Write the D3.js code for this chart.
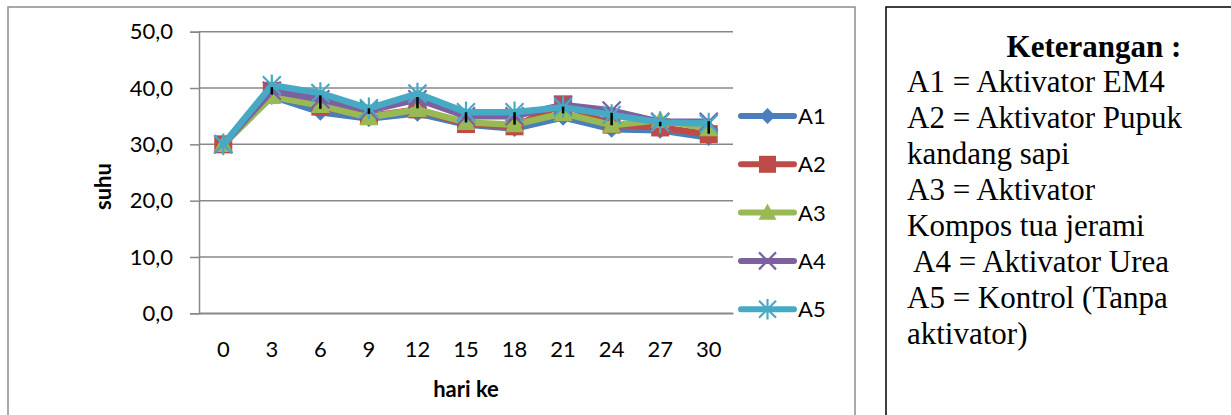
<!DOCTYPE html>
<html><head><meta charset="utf-8">
<script src="https://cdn.jsdelivr.net/npm/d3@7"></script>
<style>
html,body{margin:0;padding:0;background:#fff;}
svg{display:block;}
</style></head>
<body>
<svg id="c" width="1231" height="415"></svg>
<script>
const days = [0, 3, 6, 9, 12, 15, 18, 21, 24, 27, 30];
const seriesNames = ["A1", "A2", "A3", "A4", "A5"];
const A1 = [30, 38.5, 35.7, 34.6, 35.5, 33.5, 32.8, 34.8, 32.7, 32.5, 31.2];
const A2 = [30, 39.5, 36.7, 35.0, 36.2, 33.6, 33.2, 37.1, 33.5, 33.0, 31.8];
const A3 = [30, 38.5, 36.9, 34.8, 36.2, 33.9, 33.5, 35.5, 33.4, 34.3, 32.8];
const A4 = [30, 39.5, 38.0, 36.0, 38.0, 35.0, 35.0, 37.0, 36.0, 34.0, 34.0];
const A5 = [30, 40.5, 39.1, 36.4, 39.0, 35.7, 35.7, 36.6, 35.2, 33.9, 33.7];
const errCenter = [30, 39.5, 37.5, 35.9, 37.4, 34.8, 34.6, 36.1, 34.5, 33.6, 33.0];
const errHalf = [0, 0.65, 1.2, 0.5, 1.0, 0.9, 1.1, 0.6, 1.1, 0.4, 1.1];
const yTicks = [0, 10, 20, 30, 40, 50];
const noteTitle = "Keterangan :";
const noteLines = ["A1 = Aktivator EM4", "A2 = Aktivator Pupuk", "kandang sapi", "A3 = Aktivator",
  "Kompos tua jerami", " A4 = Aktivator Urea", "A5 = Kontrol (Tanpa", "aktivator)"];

const values = [A1, A2, A3, A4, A5];
const colors = ["#4A7EBB", "#BE4B48", "#98B954", "#7D60A0", "#46AAC5"];
const svg = d3.select("#c");
const sans = "Lato, 'Open Sans', sans-serif";

// outer chart border
svg.append("rect").attr("x", 8).attr("y", 7).attr("width", 847).attr("height", 420)
  .attr("fill", "none").attr("stroke", "#8c8c8c").attr("stroke-width", 1.5);

const L = 199, R = 733, T = 31.7, B = 313.3;
const x = d3.scaleBand().domain(days).range([L, R]);
const y = d3.scaleLinear().domain([0, 50]).range([B, T]);

// gridlines
svg.append("g").selectAll("line").data(yTicks).join("line")
  .attr("x1", L).attr("x2", R).attr("y1", d => y(d)).attr("y2", d => y(d))
  .attr("stroke", "#888").attr("stroke-width", 1.5);

// y axis
const yAxis = svg.append("g").attr("transform", `translate(${L},0)`)
  .call(d3.axisLeft(y).tickValues(yTicks).tickSize(9).tickPadding(17)
    .tickFormat(d => d3.format(".1f")(d).replace(".", ",")));
yAxis.select(".domain").attr("stroke", "#888").attr("stroke-width", 1.5);
yAxis.selectAll(".tick line").attr("stroke", "#888").attr("stroke-width", 1.5);
yAxis.selectAll("text").attr("font-family", sans).attr("font-size", 22).attr("fill", "#000");

// x axis
const xAxis = svg.append("g").attr("transform", `translate(0,${B})`)
  .call(d3.axisBottom(x).tickSize(0).tickPadding(28));
xAxis.select(".domain").attr("stroke", "#888").attr("stroke-width", 1.5);
xAxis.selectAll("text").attr("font-family", sans).attr("font-size", 22).attr("fill", "#000");

// axis titles
svg.append("text").attr("x", (L + R) / 2).attr("y", 397).attr("text-anchor", "middle")
  .attr("font-family", sans).attr("font-weight", "bold").attr("font-size", 22).text("hari ke");
svg.append("text").attr("transform", `translate(111,${(T + B) / 2 + 14}) rotate(-90)`)
  .attr("text-anchor", "middle").attr("font-family", sans).attr("font-weight", "bold")
  .attr("font-size", 22).text("suhu");

const cx = d => x(d) + x.bandwidth() / 2;
const line = d3.line().x(d => cx(d[0])).y(d => y(d[1]));

function marker(g, i, px, py, s) {
  const c = colors[i];
  if (i === 0) {
    g.append("path").attr("d", `M${px},${py - s}L${px + s},${py}L${px},${py + s}L${px - s},${py}Z`).attr("fill", c);
  } else if (i === 1) {
    g.append("rect").attr("x", px - s).attr("y", py - s).attr("width", s * 2).attr("height", s * 2).attr("fill", c);
  } else if (i === 2) {
    g.append("path").attr("d", `M${px},${py - s}L${px + s},${py + s * 0.8}L${px - s},${py + s * 0.8}Z`).attr("fill", c);
  } else if (i === 3) {
    g.append("path").attr("d", `M${px - s},${py - s}L${px + s},${py + s}M${px - s},${py + s}L${px + s},${py - s}`)
      .attr("stroke", c).attr("stroke-width", 2.2).attr("fill", "none");
  } else {
    g.append("path").attr("d", `M${px - s},${py - s}L${px + s},${py + s}M${px - s},${py + s}L${px + s},${py - s}M${px},${py - s * 1.2}L${px},${py + s * 1.2}`)
      .attr("stroke", c).attr("stroke-width", 2.2).attr("fill", "none");
  }
}

values.forEach((vals, i) => {
  const pts = days.map((d, j) => [d, vals[j]]);
  const g = svg.append("g");
  g.append("path").attr("d", line(pts)).attr("fill", "none").attr("stroke", colors[i])
    .attr("stroke-width", 6.5).attr("stroke-linejoin", "round").attr("stroke-linecap", "round");
  pts.forEach(p => marker(g, i, cx(p[0]), y(p[1]), [8.5, 9, 9.5, 9, 9][i]));
});

// error bars
svg.append("g").selectAll("line").data(days.map((d, j) => [d, errCenter[j], errHalf[j]]).filter(d => d[2] > 0))
  .join("line").attr("x1", d => cx(d[0])).attr("x2", d => cx(d[0]))
  .attr("y1", d => y(d[1] - d[2])).attr("y2", d => y(d[1] + d[2]))
  .attr("stroke", "#000").attr("stroke-width", 2.5);

// legend
const lg = svg.append("g");
seriesNames.forEach((n, i) => {
  const ly = 116 + i * 48.3;
  lg.append("line").attr("x1", 741).attr("x2", 794).attr("y1", ly).attr("y2", ly)
    .attr("stroke", colors[i]).attr("stroke-width", 6).attr("stroke-linecap", "round");
  marker(lg, i, 767.5, ly, [8, 8.5, 9, 8.5, 8.5][i]);
  lg.append("text").attr("x", 798).attr("y", ly + 8).attr("font-family", sans)
    .attr("font-size", 22).attr("fill", "#000").text(n);
});

// note box
svg.append("rect").attr("x", 886).attr("y", 7).attr("width", 400).attr("height", 420)
  .attr("fill", "none").attr("stroke", "#000").attr("stroke-width", 1.5);
const serif = "'Liberation Serif', 'Times New Roman', serif";
svg.append("text").attr("x", 1094).attr("y", 57).attr("text-anchor", "middle")
  .attr("font-family", serif).attr("font-weight", "bold").attr("font-size", 31).text(noteTitle);
svg.append("g").selectAll("text").data(noteLines).join("text")
  .attr("x", 907).attr("y", (d, i) => 92 + i * 36).attr("font-family", serif)
  .attr("font-size", 31).style("white-space", "pre").text(d => d);
</script>
</body></html>
